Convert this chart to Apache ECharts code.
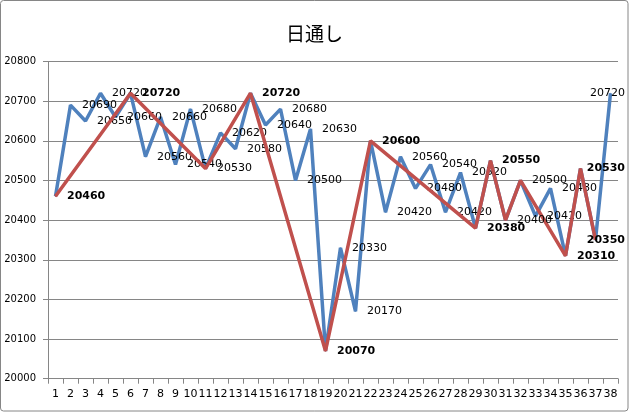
<!DOCTYPE html>
<html>
<head>
<meta charset="utf-8">
<script src="https://cdn.jsdelivr.net/npm/echarts@6/dist/echarts.min.js"></script>
<style>html,body{margin:0;padding:0;background:#fff}#c{width:629px;height:412px}</style>
</head>
<body>
<div id="c"></div>
<script>
const titleText = '日通し';
const categories = ['1','2','3','4','5','6','7','8','9','10','11','12','13','14','15','16','17','18','19','20','21','22','23','24','25','26','27','28','29','30','31','32','33','34','35','36','37','38'];
const dailyValues = [20460,20690,20650,20720,20660,20720,20560,20660,20540,20680,20530,20620,20580,20720,20640,20680,20500,20630,20070,20330,20170,20600,20420,20560,20480,20540,20420,20520,20380,20550,20400,20500,20410,20480,20310,20530,20350,20720];
const swingValues = [20460,null,null,null,null,20720,null,null,null,null,20530,null,null,20720,null,null,null,null,20070,null,null,20600,null,null,null,null,null,null,20380,20550,20400,20500,null,null,20310,20530,20350,null];
const yMin = 20000, yMax = 20800, yStep = 100;

const chart = echarts.init(document.getElementById('c'));
const RIGHT_LIMIT = 625;
// swing points whose label is drawn in regular weight in the reference
const plainSwingLabels = [10, 30, 31];
function fitRight(params) {
  const r = params.labelRect;
  if (r.x + r.width > RIGHT_LIMIT) {
    return { x: RIGHT_LIMIT - r.width, y: r.y + r.height / 2, align: 'left', verticalAlign: 'middle' };
  }
  return {};
}
const baseLabel = {
  show: true, position: 'right', distance: 11, color: '#000',
  fontFamily: 'DejaVu Sans', fontSize: 11
};
chart.setOption({
  animation: false,
  backgroundColor: '#fff',
  title: {
    text: titleText, left: 'center', top: 19,
    textStyle: { fontFamily: 'Noto Sans CJK JP', fontSize: 19, fontWeight: 'normal', color: '#000' }
  },
  graphic: [{
    type: 'rect', shape: { x: 0.5, y: 0.5, width: 627.5, height: 410.5, r: 3 },
    style: { fill: 'none', stroke: '#868686', lineWidth: 1 }, silent: true, z: 100
  }],
  grid: { left: 48, right: 11, top: 61.5, bottom: 33.3 },
  xAxis: {
    type: 'category', data: categories, boundaryGap: true,
    axisLine: { lineStyle: { color: '#868686', width: 1 } },
    axisTick: { show: true, length: 5, alignWithLabel: false, lineStyle: { color: '#868686' } },
    axisLabel: { interval: 0, margin: 10, color: '#000', fontFamily: 'DejaVu Sans', fontSize: 11 },
    splitLine: { show: false }
  },
  yAxis: {
    type: 'value', min: yMin, max: yMax, interval: yStep,
    axisLine: { show: true, lineStyle: { color: '#868686', width: 1 } },
    axisTick: { show: true, length: 5, lineStyle: { color: '#868686' } },
    axisLabel: { margin: 12, color: '#000', fontFamily: 'DejaVu Sans', fontSize: 10, formatter: function (v) { return String(v); } },
    splitLine: { show: true, lineStyle: { color: '#868686', width: 1 } }
  },
  series: [
    {
      name: 'daily', type: 'line', data: dailyValues,
      symbol: 'circle', symbolSize: 1, showSymbol: true,
      lineStyle: { color: '#4F81BD', width: 3.5 },
      itemStyle: { color: '#4F81BD' },
      label: Object.assign({}, baseLabel, {
        fontWeight: 'normal',
        formatter: function (p) {
          return swingValues[p.dataIndex] === p.value ? '' : String(p.value);
        }
      }),
      labelLayout: fitRight,
      z: 2
    },
    {
      name: 'swing', type: 'line', data: swingValues, connectNulls: true,
      symbol: 'circle', symbolSize: 1, showSymbol: true,
      lineStyle: { color: '#C0504D', width: 3.5 },
      itemStyle: { color: '#C0504D' },
      label: Object.assign({}, baseLabel, {
        formatter: function (p) {
          return (plainSwingLabels.indexOf(p.dataIndex) >= 0 ? '{n|' : '{b|') + p.value + '}';
        },
        rich: {
          n: { fontFamily: 'DejaVu Sans', fontSize: 11, fontWeight: 'normal', color: '#000' },
          b: { fontFamily: 'DejaVu Sans', fontSize: 11, fontWeight: 'bold', color: '#000' }
        }
      }),
      labelLayout: fitRight,
      z: 3
    }
  ]
});
</script>
</body>
</html>
